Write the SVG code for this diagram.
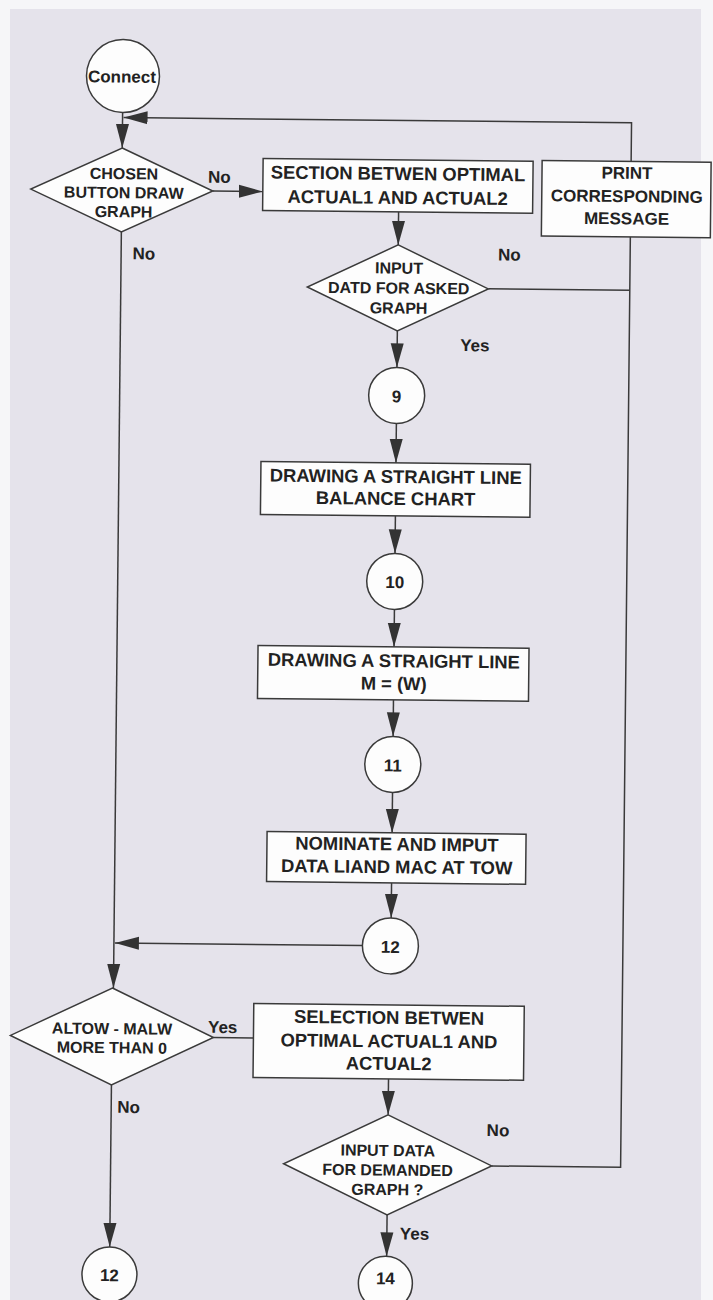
<svg xmlns="http://www.w3.org/2000/svg" width="713" height="1300" viewBox="0 0 713 1300">
<style>
.box{fill:#fdfdfd;stroke:#3a3a3a;stroke-width:1.5}
.ln{fill:none;stroke:#3a3a3a;stroke-width:1.5}
.t{font-family:"Liberation Sans",Arial,sans-serif;font-weight:bold;fill:#222;text-anchor:middle}
.bt{font-size:18.4px}
.dt{font-size:16px}
.ct{font-size:17px}
.lb{font-family:"Liberation Sans",Arial,sans-serif;font-weight:bold;fill:#222;font-size:17px}
</style>
<defs>
<marker id="ah" markerWidth="24" markerHeight="14" refX="24" refY="7" orient="auto" markerUnits="userSpaceOnUse">
<path d="M0,0.5 L24,7 L0,13.5 z" fill="#333"/>
</marker>
</defs>
<rect x="0" y="0" width="713" height="1300" fill="#f6f6f8"/>
<rect x="10" y="9" width="691" height="1291" fill="#e5e3eb"/>
<g transform="rotate(0.6 356 650)">
<g id="connectors">
<line class="ln" x1="117" y1="115" x2="117" y2="150.5" marker-end="url(#ah)"/>
<polyline class="ln" points="626,158.5 626,120 118,120" marker-end="url(#ah)"/>
<line class="ln" x1="208" y1="192.5" x2="258" y2="192.5" marker-end="url(#ah)"/>
<line class="ln" x1="117" y1="234.5" x2="117" y2="990.5" marker-end="url(#ah)"/>
<line class="ln" x1="394" y1="211.5" x2="394" y2="244.5" marker-end="url(#ah)"/>
<line class="ln" x1="484.5" y1="287.5" x2="626" y2="287.5"/>
<polyline class="ln" points="626,234 626,1164.5 497,1164.5"/>
<line class="ln" x1="394" y1="330.5" x2="394" y2="367" marker-end="url(#ah)"/>
<line class="ln" x1="394" y1="423" x2="394" y2="462.5" marker-end="url(#ah)"/>
<line class="ln" x1="394" y1="515.5" x2="394" y2="553" marker-end="url(#ah)"/>
<line class="ln" x1="394" y1="609" x2="394" y2="646.5" marker-end="url(#ah)"/>
<line class="ln" x1="394" y1="699.5" x2="394" y2="736" marker-end="url(#ah)"/>
<line class="ln" x1="394" y1="792" x2="394" y2="832.5" marker-end="url(#ah)"/>
<line class="ln" x1="394" y1="882.5" x2="394" y2="917.5" marker-end="url(#ah)"/>
<line class="ln" x1="365.5" y1="945.5" x2="118" y2="945.5" marker-end="url(#ah)"/>
<line class="ln" x1="217.5" y1="1039" x2="257.5" y2="1039"/>
<line class="ln" x1="116" y1="1087.5" x2="116" y2="1249.5" marker-end="url(#ah)"/>
<line class="ln" x1="393" y1="1078.5" x2="393" y2="1114.5" marker-end="url(#ah)"/>
<line class="ln" x1="393" y1="1214.5" x2="393" y2="1256" marker-end="url(#ah)"/>
</g>
<g id="n-connect">
<circle class="box" cx="117" cy="78.5" r="36.5"/>
<text class="t ct" x="116" y="85">Connect</text>
</g>
<g id="n-chosen">
<polygon class="box" points="117,150.5 208,192.5 117,234.5 26,192.5"/>
<text class="t dt" x="119" y="181.7">CHOSEN</text>
<text class="t dt" x="119" y="200.7">BUTTON DRAW</text>
<text class="t dt" x="119" y="219.7">GRAPH</text>
</g>
<g id="n-section">
<rect class="box" x="258" y="159.5" width="270" height="52"/>
<text class="t bt" x="393" y="179.5">SECTION BETWEN OPTIMAL</text>
<text class="t bt" x="393" y="203.5">ACTUAL1 AND ACTUAL2</text>
</g>
<g id="n-print">
<rect class="box" x="537" y="158.5" width="169" height="75.5"/>
<text class="t ct" x="622" y="176">PRINT</text>
<text class="t ct" x="622" y="199.3">CORRESPONDING</text>
<text class="t ct" x="622" y="221.6">MESSAGE</text>
</g>
<g id="n-input1">
<polygon class="box" points="394,244.5 484.5,287.5 394,330.5 303.5,287.5"/>
<text class="t dt" x="395" y="273.2">INPUT</text>
<text class="t dt" x="395" y="293.2">DATD FOR ASKED</text>
<text class="t dt" x="395" y="313.2">GRAPH</text>
</g>
<g id="n-9">
<circle class="box" cx="394" cy="395" r="28"/>
<text class="t ct" x="394" y="402">9</text>
</g>
<g id="n-balance">
<rect class="box" x="259" y="462.5" width="269.5" height="53"/>
<text class="t bt" x="394" y="482.5">DRAWING A STRAIGHT LINE</text>
<text class="t bt" x="394" y="504.5">BALANCE CHART</text>
</g>
<g id="n-10">
<circle class="box" cx="394" cy="581" r="28"/>
<text class="t ct" x="394" y="587.6">10</text>
</g>
<g id="n-mw">
<rect class="box" x="258" y="646.5" width="271" height="53"/>
<text class="t bt" x="394" y="666.8">DRAWING A STRAIGHT LINE</text>
<text class="t bt" x="394" y="689.5">M = (W)</text>
</g>
<g id="n-11">
<circle class="box" cx="394" cy="764" r="28"/>
<text class="t ct" x="394" y="771">11</text>
</g>
<g id="n-nominate">
<rect class="box" x="269" y="832.5" width="259" height="50"/>
<text class="t bt" x="399" y="850.1">NOMINATE AND IMPUT</text>
<text class="t bt" x="399" y="872.8">DATA LIAND MAC AT TOW</text>
</g>
<g id="n-12a">
<circle class="box" cx="393.5" cy="945.5" r="28"/>
<text class="t ct" x="393.5" y="952.6">12</text>
</g>
<g id="n-altow">
<polygon class="box" points="116,990.5 217.5,1039 116,1087.5 14.5,1039"/>
<text class="t dt" x="116" y="1036.7">ALTOW - MALW</text>
<text class="t dt" x="116" y="1055.7">MORE THAN 0</text>
</g>
<g id="n-selection">
<rect class="box" x="257.5" y="1004.5" width="270.5" height="74"/>
<text class="t bt" x="393" y="1023.5">SELECTION BETWEN</text>
<text class="t bt" x="393" y="1047">OPTIMAL ACTUAL1 AND</text>
<text class="t bt" x="393" y="1069.5">ACTUAL2</text>
</g>
<g id="n-input2">
<polygon class="box" points="393,1114.5 497,1164.5 393,1214.5 289,1164.5"/>
<text class="t dt" x="393" y="1155.7">INPUT DATA</text>
<text class="t dt" x="393" y="1175.2">FOR DEMANDED</text>
<text class="t dt" x="393" y="1194.7">GRAPH ?</text>
</g>
<g id="n-12b">
<circle class="box" cx="116" cy="1277" r="27.5"/>
<text class="t ct" x="116" y="1283.7">12</text>
</g>
<g id="n-14">
<circle class="box" cx="392" cy="1283" r="27"/>
<text class="t ct" x="392" y="1284">14</text>
</g>
<g id="labels">
<text class="lb" x="203" y="184.3">No</text>
<text class="lb" x="128.5" y="261.7">No</text>
<text class="lb" x="494" y="259">No</text>
<text class="lb" x="457" y="350">Yes</text>
<text class="lb" x="212" y="1034.4">Yes</text>
<text class="lb" x="122" y="1115.3">No</text>
<text class="lb" x="491.7" y="1134.7">No</text>
<text class="lb" x="406" y="1239">Yes</text>
</g>
</g>
</svg>
